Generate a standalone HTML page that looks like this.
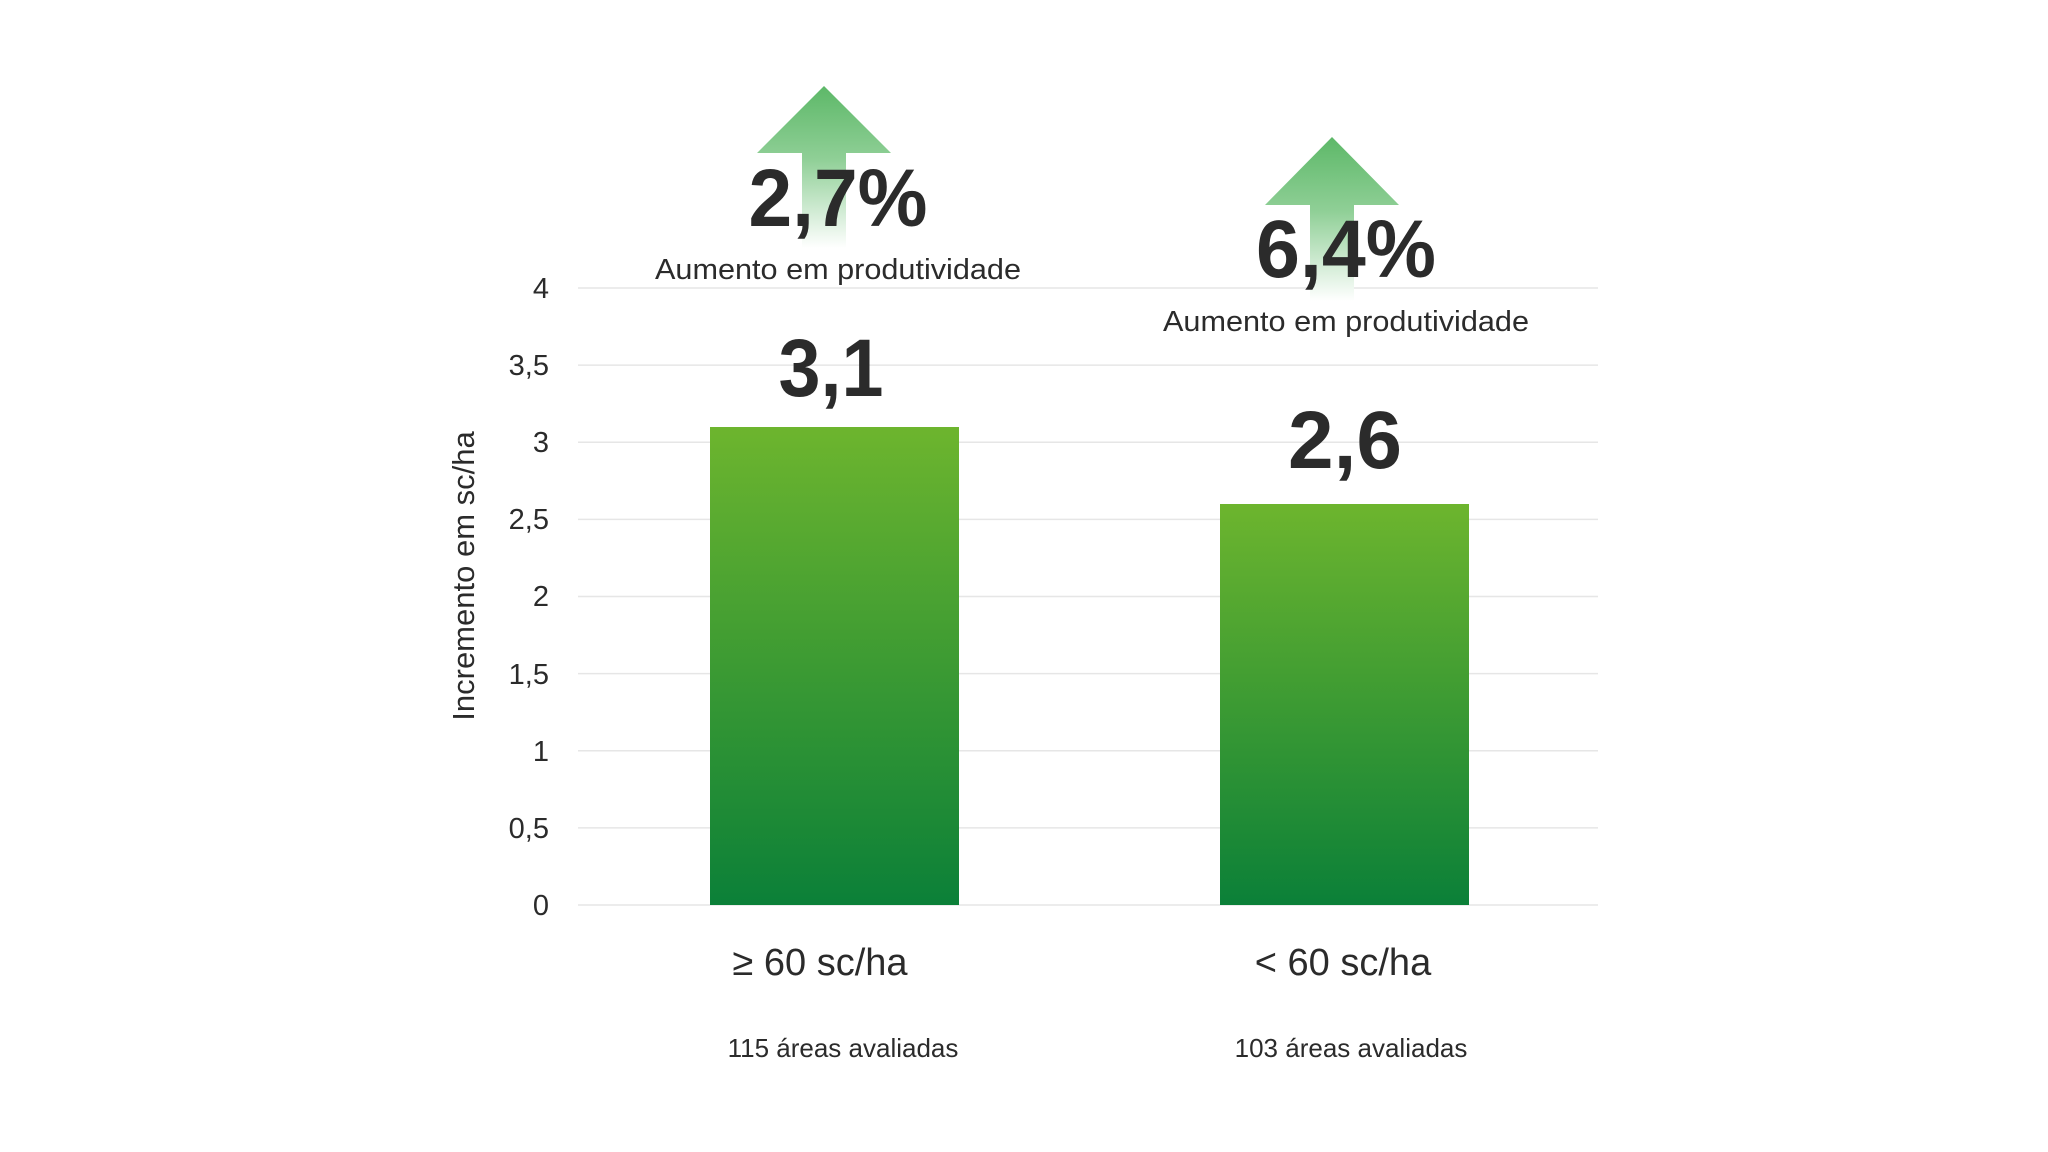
<!DOCTYPE html>
<html><head><meta charset="utf-8"><style>
html,body{margin:0;padding:0;background:#fff;}
svg{display:block;}
text{font-family:"Liberation Sans",sans-serif;fill:#2b2b2b;}
</style></head><body>
<svg width="2048" height="1152" viewBox="0 0 2048 1152" xmlns="http://www.w3.org/2000/svg">
<defs>
<linearGradient id="bar" x1="0" y1="0" x2="0" y2="1">
<stop offset="0" stop-color="#6db52e"/><stop offset="1" stop-color="#0b8038"/>
</linearGradient>
<linearGradient id="arr1" gradientUnits="userSpaceOnUse" x1="0" y1="86" x2="0" y2="248">
<stop offset="0" stop-color="#5db868"/><stop offset="0.45" stop-color="#8fcf96"/><stop offset="1" stop-color="#ffffff"/>
</linearGradient>
<linearGradient id="arr2" gradientUnits="userSpaceOnUse" x1="0" y1="137" x2="0" y2="301">
<stop offset="0" stop-color="#5db868"/><stop offset="0.45" stop-color="#8fcf96"/><stop offset="1" stop-color="#ffffff"/>
</linearGradient>
</defs>
<g stroke="#e6e6e6" stroke-width="1.5">
<line x1="578" y1="288" x2="1598" y2="288"/>
<line x1="578" y1="365.1" x2="1598" y2="365.1"/>
<line x1="578" y1="442.3" x2="1598" y2="442.3"/>
<line x1="578" y1="519.4" x2="1598" y2="519.4"/>
<line x1="578" y1="596.5" x2="1598" y2="596.5"/>
<line x1="578" y1="673.6" x2="1598" y2="673.6"/>
<line x1="578" y1="750.8" x2="1598" y2="750.8"/>
<line x1="578" y1="827.9" x2="1598" y2="827.9"/>
<line x1="578" y1="905" x2="1598" y2="905"/>
</g>
<g font-size="29" text-anchor="end">
<text x="549" y="298">4</text>
<text x="549" y="375">3,5</text>
<text x="549" y="452">3</text>
<text x="549" y="529">2,5</text>
<text x="549" y="606">2</text>
<text x="549" y="684">1,5</text>
<text x="549" y="761">1</text>
<text x="549" y="838">0,5</text>
<text x="549" y="915">0</text>
</g>
<text transform="translate(474,576) rotate(-90)" font-size="31" text-anchor="middle">Incremento em sc/ha</text>
<rect x="710" y="427" width="249" height="478" fill="url(#bar)"/>
<rect x="1220" y="504" width="249" height="401" fill="url(#bar)"/>
<polygon points="824,86 891,153 846,153 846,248 802,248 802,153 757,153" fill="url(#arr1)"/>
<polygon points="1332,137 1399,205 1354,205 1354,301 1310,301 1310,205 1265,205" fill="url(#arr2)"/>
<g font-weight="bold" font-size="82" text-anchor="middle">
<text x="831" y="396" textLength="105" lengthAdjust="spacingAndGlyphs">3,1</text>
<text x="1345" y="468" textLength="114" lengthAdjust="spacingAndGlyphs">2,6</text>
<text x="838" y="226" textLength="179" lengthAdjust="spacingAndGlyphs">2,7%</text>
<text x="1346" y="277" textLength="180" lengthAdjust="spacingAndGlyphs">6,4%</text>
</g>
<g font-size="29" text-anchor="middle">
<text x="838" y="279" textLength="366" lengthAdjust="spacingAndGlyphs">Aumento em produtividade</text>
<text x="1346" y="331" textLength="366" lengthAdjust="spacingAndGlyphs">Aumento em produtividade</text>
</g>
<g font-size="38" text-anchor="middle">
<text x="820" y="975">≥ 60 sc/ha</text>
<text x="1343" y="975">&lt; 60 sc/ha</text>
</g>
<g font-size="26" text-anchor="middle">
<text x="843" y="1057">115 áreas avaliadas</text>
<text x="1351" y="1057">103 áreas avaliadas</text>
</g>
</svg>
</body></html>
